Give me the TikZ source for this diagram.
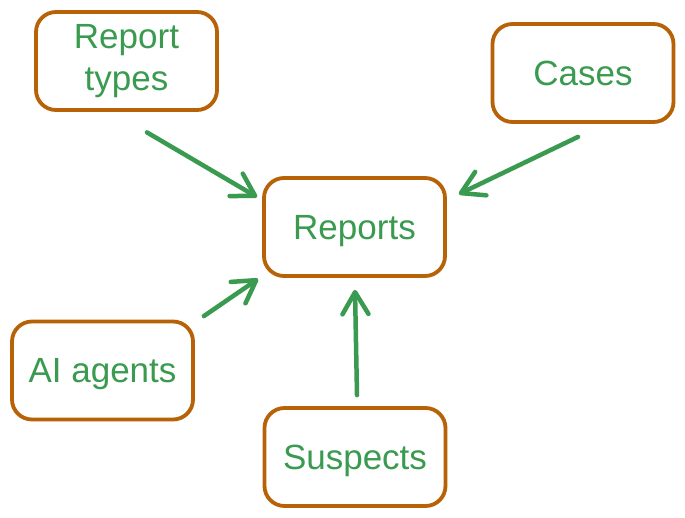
\documentclass[tikz,border=0pt]{standalone}
\usepackage{fontspec}
\setmainfont{Liberation Sans}
\usetikzlibrary{arrows.meta,calc}
\definecolor{boxbrown}{RGB}{184,98,8}
\definecolor{txtgreen}{RGB}{58,155,80}
\tikzset{
  ent/.style={draw=boxbrown, line width=3.8pt, rounded corners=20pt,
    minimum width=181pt, minimum height=98pt, inner sep=0pt,
    text=txtgreen, font=\fontsize{35}{42}\selectfont, align=center},
  one/.style={text depth=0pt},
  arr/.style={draw=txtgreen, line width=4.5pt, line cap=round,
    -{Straight Barb[length=22pt,width=26pt,round]}}
}
\begin{document}
\begin{tikzpicture}[x=1pt,y=-1pt]
\useasboundingbox[fill=white] (0,0) rectangle (685,518);
\node[ent] (rt) at (126.5,61) {Report\\types};
\node[ent,one] (cs) at (583,73) {Cases};
\node[ent,one] (rep) at (354.5,227) {Reports};
\node[ent,one] (ai) at (102.5,370.5) {AI agents};
\node[ent,one] (sus) at (355,457) {Suspects};
\draw[arr] ($(rt.south)+(20.5,20.5)$) -- ($(rep.north west)+(-5,21)$);
\draw[arr] ($(cs.south)+(-5,13)$) -- ($(rep.north east)+(12,18)$);
\draw[arr] ($(ai.north east)+(9,-3.5)$) -- ($(rep.south west)+(-4,1)$);
\draw[arr] ($(sus.north)+(2,-11)$) -- ($(rep.south)+(0.5,12)$);
\end{tikzpicture}
\end{document}
